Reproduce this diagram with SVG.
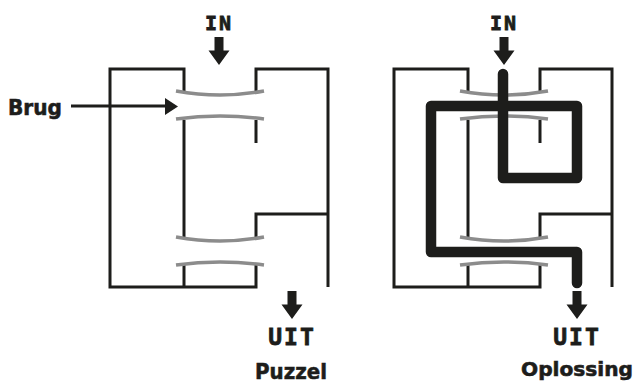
<svg xmlns="http://www.w3.org/2000/svg" width="636" height="383" viewBox="0 0 636 383">
<style>
.wall{fill:none;stroke:#1d1d1b;stroke-width:3;stroke-linecap:butt;stroke-linejoin:miter}
.bridge{fill:none;stroke:#8c8c8c;stroke-width:3.5}
.route{fill:none;stroke:#1d1d1b;stroke-width:10.5;stroke-linecap:round;stroke-linejoin:round}
.arrow{fill:#1d1d1b}
.mono{font-family:"DejaVu Sans Mono",monospace;font-weight:bold;fill:#1d1d1b;stroke:#1d1d1b;stroke-width:0.8;text-anchor:middle}
.lbl{font-family:"DejaVu Sans",sans-serif;font-weight:bold;fill:#1d1d1b;stroke:#1d1d1b;stroke-width:0.6}
</style>
<defs>
<g id="maze">
<path class="wall" d="M184,93 V69 H110 V287 H256 V263"/>
<path class="wall" d="M184,120 V237"/>
<path class="wall" d="M184,263 V287"/>
<path class="wall" d="M256,93 V69 H328 V287"/>
<path class="wall" d="M256,120 V143"/>
<path class="wall" d="M256,237 V214 H328"/>
<path class="bridge" d="M176,91 Q220,99 264,91"/>
<path class="bridge" d="M176,119 Q220,113 264,119"/>
<path class="bridge" d="M176,237 Q220,245 264,237"/>
<path class="bridge" d="M176,265 Q220,259 264,265"/>
</g>
<path id="down" d="M-4.5,0 H4.5 V13.5 H10.5 L0,28 L-10.5,13.5 H-4.5 Z"/>
</defs>
<g id="puzzle">
<use href="#maze"/>
<text class="mono" x="219" y="30" font-size="20" letter-spacing="2">IN</text>
<use class="arrow" href="#down" x="219" y="37"/>
<use class="arrow" href="#down" x="292" y="291"/>
<text class="mono" x="292" y="345" font-size="23" letter-spacing="2">UIT</text>
<text class="lbl" x="255" y="379" font-size="22" textLength="72" lengthAdjust="spacingAndGlyphs">Puzzel</text>
</g>
<g id="brug">
<text class="lbl" x="8" y="115" font-size="22" textLength="54" lengthAdjust="spacingAndGlyphs">Brug</text>
<line x1="71" y1="106" x2="168" y2="106" stroke="#1d1d1b" stroke-width="3"/>
<polygon class="arrow" points="165,98 178,106.5 165,115"/>
</g>
<g id="solution">
<use href="#maze" transform="translate(284,0)"/>
<path class="route" d="M503,74 V178 H577 V106 H431 V252 H577 V283"/>
<text class="mono" x="504" y="30" font-size="20" letter-spacing="2">IN</text>
<use class="arrow" href="#down" x="504" y="37"/>
<use class="arrow" href="#down" x="577" y="291"/>
<text class="mono" x="577" y="345" font-size="23" letter-spacing="2">UIT</text>
<text class="lbl" x="521" y="376" font-size="20" textLength="112" lengthAdjust="spacingAndGlyphs">Oplossing</text>
</g>
</svg>
